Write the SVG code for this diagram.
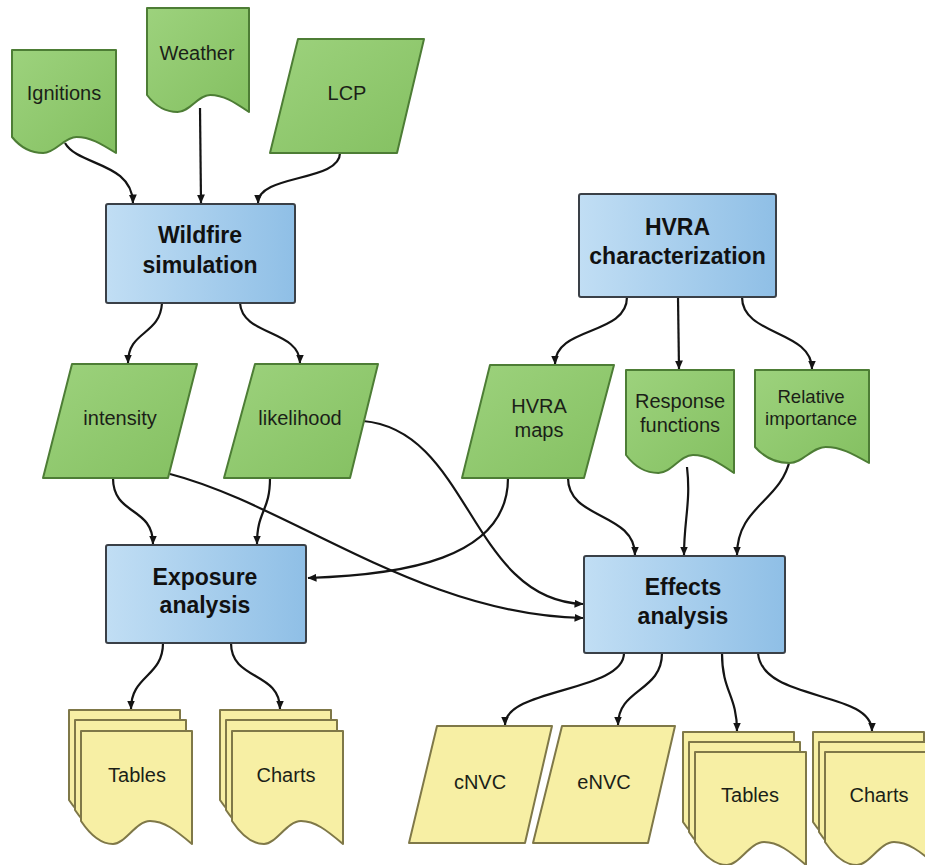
<svg xmlns="http://www.w3.org/2000/svg" xmlns:xlink="http://www.w3.org/1999/xlink" width="925" height="865" viewBox="0 0 925 865">
  <style>
    .proc { stroke: #3a4047; stroke-width: 2; }
    .data { fill: url(#gGreen); stroke: #4d7d35; stroke-width: 2; stroke-linejoin: round; }
    .out { fill: #f7efa4; stroke: #7f7848; stroke-width: 2; stroke-linejoin: round; }
    .lbl { font-family: "Liberation Sans", Arial, sans-serif; font-size: 20px; fill: #1b1f18; text-anchor: middle; }
    .ttl { font-family: "Liberation Sans", Arial, sans-serif; font-size: 23px; font-weight: bold; fill: #111; text-anchor: middle; }
    .edge { fill: none; stroke: #141414; stroke-width: 2.2; marker-end: url(#arrow); }
  </style>
  <defs>
    <linearGradient id="gBlue" x1="0" y1="0" x2="1" y2="0">
      <stop offset="0" stop-color="#c1def4"/>
      <stop offset="1" stop-color="#8fbfe6"/>
    </linearGradient>
    <linearGradient id="gGreen" x1="0" y1="0" x2="1" y2="1">
      <stop offset="0" stop-color="#9dd27d"/>
      <stop offset="1" stop-color="#84c061"/>
    </linearGradient>
    <marker id="arrow" viewBox="0 0 9 8" refX="8.5" refY="4" markerWidth="9" markerHeight="8" markerUnits="userSpaceOnUse" orient="auto">
      <path d="M0,0 L9,4 L0,8 Z" fill="#141414"/>
    </marker>
    <!-- one sheet of a stacked document, wavy bottom edge -->
    <path id="sheet" d="M0,0 H111 V113 C94.4,99 83,90 69,90 C55,90 44,113 32,113 C17,113 6,99 0,90 Z"/>
  </defs>

  <!-- connectors -->
  <g id="connectors">
    <path class="edge" d="M65,143 C78,166 132,162 133,203"/>
    <path class="edge" d="M200,108 L201,203"/>
    <path class="edge" d="M340,153 C340,182 258,174 258,203"/>
    <path class="edge" d="M162,303 C160,336 128,330 128,363"/>
    <path class="edge" d="M240,303 C242,336 300,330 300,363"/>
    <path class="edge" d="M113,478 C113,516 153,506 153,544"/>
    <path class="edge" d="M270,478 C270,512 257,510 257,544"/>
    <path class="edge" d="M170,474 C290,505 420,615 583,618"/>
    <path class="edge" d="M363,421 C470,430 470,600 583,604"/>
    <path class="edge" d="M508,478 C508,560 400,575 308,578"/>
    <path class="edge" d="M568,478 C568,520 635,512 635,555"/>
    <path class="edge" d="M627,297 C627,336 555,326 555,364"/>
    <path class="edge" d="M678,297 L679,369"/>
    <path class="edge" d="M742,297 C742,336 812,330 812,369"/>
    <path class="edge" d="M687,467 C691,502 684,520 684,555"/>
    <path class="edge" d="M790,459 C781,502 737,506 737,555"/>
    <path class="edge" d="M624,653 C624,692 505,688 505,725"/>
    <path class="edge" d="M662,653 C662,692 618,688 618,725"/>
    <path class="edge" d="M722,653 C722,692 737,695 737,731"/>
    <path class="edge" d="M758,653 C762,702 872,690 872,731"/>
    <path class="edge" d="M163,643 C163,677 131,675 131,709"/>
    <path class="edge" d="M231,643 C231,681 280,671 280,709"/>
  </g>

  <!-- inputs -->
  <g id="ignitions">
    <path class="data" d="M12,50 H116 V153 C100.4,143.4 90,137 76.5,137 C64,137 55.7,153 43.2,153 C27.6,153 17.2,143.4 12,137 Z"/>
    <text class="lbl" x="64" y="100">Ignitions</text>
  </g>
  <g id="weather">
    <path class="data" d="M147,8 H249 V112 C233.7,101.8 223.5,95 210.2,95 C198,95 189.8,112 177.6,112 C162.3,112 152.1,101.8 147,95 Z"/>
    <text class="lbl" x="197" y="60">Weather</text>
  </g>
  <g id="lcp">
    <path class="data" d="M298,39 H424 L397,153 H270 Z"/>
    <text class="lbl" x="347" y="100">LCP</text>
  </g>

  <g id="wildfire-simulation">
    <rect class="proc" x="106" y="204" width="189" height="99" rx="2" fill="url(#gBlue)"/>
    <text class="ttl" x="200" y="243">Wildfire</text>
    <text class="ttl" x="200" y="273">simulation</text>
  </g>

  <g id="hvra-characterization">
    <rect class="proc" x="579" y="194" width="197" height="103" rx="2" fill="url(#gBlue)"/>
    <text class="ttl" x="677.5" y="235">HVRA</text>
    <text class="ttl" x="677.5" y="264">characterization</text>
  </g>

  <g id="intensity">
    <path class="data" d="M72,364 H197 L168,478 H43 Z"/>
    <text class="lbl" x="120" y="425">intensity</text>
  </g>
  <g id="likelihood">
    <path class="data" d="M255,364 H378 L350,478 H224 Z"/>
    <text class="lbl" x="300" y="425">likelihood</text>
  </g>
  <g id="hvra-maps">
    <path class="data" d="M490,365 H614 L584,478 H462 Z"/>
    <text class="lbl" x="539" y="413">HVRA</text>
    <text class="lbl" x="539" y="437">maps</text>
  </g>
  <g id="response-functions">
    <path class="data" d="M626,370 H734 V473 C717.8,462.2 707,455 693,455 C680,455 671.4,473 658.4,473 C642.2,473 631.4,462.2 626,455 Z"/>
    <text class="lbl" x="680" y="408">Response</text>
    <text class="lbl" x="680" y="432">functions</text>
  </g>
  <g id="relative-importance">
    <path class="data" d="M755,370 H869 V463 C851.9,453.4 840.5,447 825.7,447 C812,447 802.9,463 789.2,463 C772.1,463 760.7,453.4 755,447 Z"/>
    <text class="lbl" x="811" y="403" style="font-size:18.6px">Relative</text>
    <text class="lbl" x="811" y="425" style="font-size:18.6px">importance</text>
  </g>

  <g id="exposure-analysis">
    <rect class="proc" x="106" y="545" width="200" height="98" rx="2" fill="url(#gBlue)"/>
    <text class="ttl" x="205" y="585">Exposure</text>
    <text class="ttl" x="205" y="613">analysis</text>
  </g>
  <g id="effects-analysis">
    <rect class="proc" x="584" y="556" width="201" height="97" rx="2" fill="url(#gBlue)"/>
    <text class="ttl" x="683" y="595">Effects</text>
    <text class="ttl" x="683" y="624">analysis</text>
  </g>

  <!-- outputs -->
  <g id="exposure-tables">
    <use class="out" xlink:href="#sheet" x="69" y="710"/>
    <use class="out" xlink:href="#sheet" x="75" y="720"/>
    <use class="out" xlink:href="#sheet" x="81" y="731"/>
    <text class="lbl" x="137" y="782">Tables</text>
  </g>
  <g id="exposure-charts">
    <use class="out" xlink:href="#sheet" x="220" y="710"/>
    <use class="out" xlink:href="#sheet" x="226" y="720"/>
    <use class="out" xlink:href="#sheet" x="232" y="731"/>
    <text class="lbl" x="286" y="782">Charts</text>
  </g>
  <g id="cnvc">
    <path class="out" d="M437,726 H552 L525,843 H409 Z"/>
    <text class="lbl" x="480" y="789">cNVC</text>
  </g>
  <g id="envc">
    <path class="out" d="M562,726 H675 L648,843 H533 Z"/>
    <text class="lbl" x="604" y="789">eNVC</text>
  </g>
  <g id="effects-tables">
    <use class="out" xlink:href="#sheet" x="683" y="732"/>
    <use class="out" xlink:href="#sheet" x="689" y="742"/>
    <use class="out" xlink:href="#sheet" x="695" y="752"/>
    <text class="lbl" x="750" y="802">Tables</text>
  </g>
  <g id="effects-charts">
    <use class="out" xlink:href="#sheet" x="813" y="732"/>
    <use class="out" xlink:href="#sheet" x="819" y="742"/>
    <use class="out" xlink:href="#sheet" x="825" y="752"/>
    <text class="lbl" x="879" y="802">Charts</text>
  </g>
</svg>
